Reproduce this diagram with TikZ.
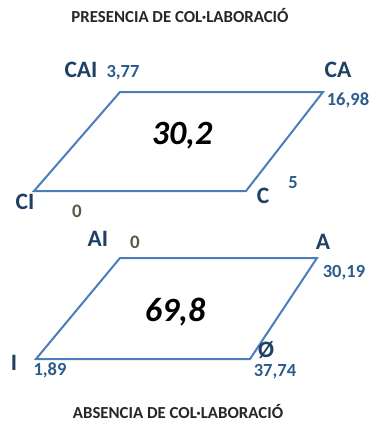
\documentclass[tikz,border=0pt]{standalone}
\usepackage{fontspec}
\setmainfont{Carlito}
\definecolor{edgeblue}{HTML}{4A7EBB}
\definecolor{letterblue}{HTML}{1F3F63}
\definecolor{numblue}{HTML}{2C5C8C}
\definecolor{zerobrown}{HTML}{5E5646}
\tikzset{
  lbl/.style={inner sep=0pt, text height=0.63em, text depth=0pt},
  para/.style={draw=edgeblue, line width=2pt, line join=miter},
  corner/.style={lbl, text=letterblue, font=\fontsize{23.5}{25}\selectfont\bfseries},
  val/.style={lbl, text=numblue, font=\fontsize{18.5}{20}\selectfont\bfseries},
  zero/.style={lbl, text=zerobrown, font=\fontsize{19}{20}\selectfont\bfseries},
  big/.style={lbl, text=black, font=\fontsize{34}{36}\selectfont\bfseries\itshape},
  title/.style={lbl, text=black!85, font=\fontsize{16.8}{18}\selectfont\bfseries}
}
\begin{document}
\begin{tikzpicture}[x=1pt,y=-1pt]
\useasboundingbox (0,0) rectangle (370,423);
% top parallelogram
\coordinate (cai) at (120,92);
\coordinate (ca) at (323,92);
\coordinate (c) at (246,191);
\coordinate (ci) at (34,191);
\draw[para] (cai) -- (ca) -- (c) -- (ci) -- cycle;
% bottom parallelogram
\coordinate (ai) at (120,258);
\coordinate (a) at (317,258);
\coordinate (o) at (250,359);
\coordinate (i) at (36,359);
\draw[para] (ai) -- (a) -- (o) -- (i) -- cycle;
% titles
\node[title] (t1) at (180,19) {PRESENCIA DE COL·LABORACIÓ};
\node[title] (t2) at (178,415) {ABSENCIA DE COL·LABORACIÓ};
% top labels
\node[corner] (lcai) at (81,74) {CAI};
\node[val] (vcai) at (123,74) {3,77};
\node[corner] (lca) at (338,74) {CA};
\node[val] (vca) at (348,102) {16,98};
\node[big] (v1) at (182,141) {30,2};
\node[corner] (lci) at (25,206) {CI};
\node[zero] (vci) at (77,214) {0};
\node[corner] (lc) at (263,200) {C};
\node[val] (vc) at (293,185) {5};
% bottom labels
\node[corner] (lai) at (98,243) {AI};
\node[zero] (vai) at (135,245) {0};
\node[corner] (la) at (323,246) {A};
\node[val] (va) at (344,274) {30,19};
\node[big] (v2) at (175,318) {69,8};
\node[corner] (li) at (14,367) {I};
\node[val] (vi) at (50,372) {1,89};
\node[corner] (lo) at (266,354) {Ø};
\node[val] (vo) at (275,373) {37,74};
\end{tikzpicture}
\end{document}
